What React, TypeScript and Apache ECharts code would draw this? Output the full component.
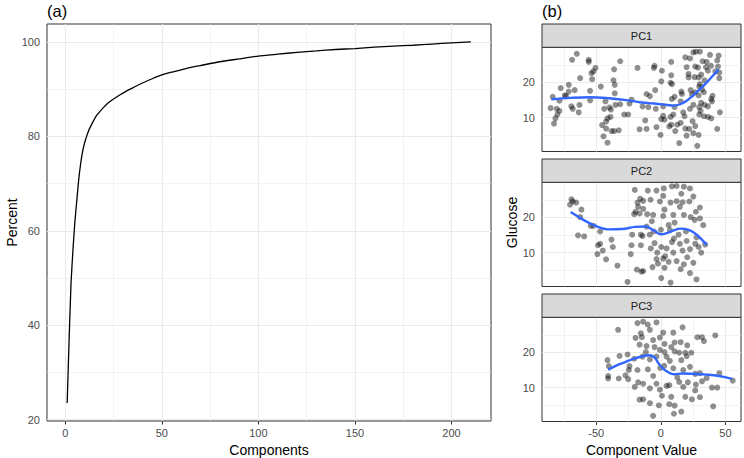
import React, { useEffect, useRef } from "react";
import * as echarts from "echarts";

// ---- Panel (a): cumulative percent of variance vs number of components ----
const components = [1, 2, 3, 4, 5, 6, 7, 8, 9, 10, 12, 14, 16, 18, 20, 22, 25, 28, 32, 36, 40, 45, 50, 55, 60, 65, 70, 80, 90, 100, 110, 120, 130, 140, 150, 160, 170, 180, 190, 200, 210];
const percent = [23.5, 37, 49, 56, 62, 66.5, 71, 74.3, 76.8, 78.6, 81.1, 82.8, 84.3, 85.3, 86.2, 87.0, 87.9, 88.7, 89.7, 90.5, 91.3, 92.2, 93.0, 93.6, 94.1, 94.6, 95.0, 95.8, 96.4, 97.0, 97.4, 97.8, 98.1, 98.4, 98.6, 98.9, 99.1, 99.3, 99.55, 99.8, 100];
const compXTicks = [0, 50, 100, 150, 200];
const compXMinor = [25, 75, 125, 175];
const percentTicks = [20, 40, 60, 80, 100];
const percentMinor = [30, 50, 70, 90];

// ---- Panel (b): Glucose vs component value, faceted by PC ----
const facetNames = ["PC1", "PC2", "PC3"];
const valueTicks = [-50, 0, 50];
const valueMinor = [-75, -25, 25];
const glucoseTicks = [10, 20];
const glucoseMinor = [5, 15, 25];

const pc1Points = [
  [-65.1, 28.1], [-68.7, 26.4], [-55.8, 26.4], [-55.8, 25.8], [-50.6, 24.1], [-52.2, 23.1], [-53.7, 22.6], [-53.2, 20.9],
  [-62.5, 21.2], [-31.5, 26.0], [-36.2, 23.7], [-18.1, 24.1], [-46.5, 18.8], [-54.8, 17.6], [-36.7, 20.6], [-35.7, 19.3],
  [-35.7, 16.9], [-71.3, 19.3], [-77.5, 18.4], [-71.3, 17.4], [-66.7, 17.8], [-73.4, 16.1], [-74.4, 16.3], [-83.7, 15.9],
  [-78.5, 14.8], [-85.3, 12.7], [-80.6, 12.5], [-78.5, 11.9], [-80.1, 10.9], [-81.6, 9.8], [-82.7, 8.3], [-69.3, 13.2],
  [-68.2, 12.5], [-63.0, 13.6], [-63.6, 11.5], [-54.8, 14.9], [-42.9, 14.6], [-43.9, 12.5], [-39.8, 12.9], [-38.7, 12.3],
  [-41.3, 9.8], [-39.0, 10.2], [-42.4, 8.9], [-45.5, 7.9], [-42.4, 6.9], [-38.2, 6.2], [-36.2, 6.2], [-32.6, 6.4],
  [-44.4, 4.7], [-41.3, 2.9], [-35.1, 13.6], [-31.5, 13.8], [-28.4, 10.9], [-25.3, 10.9], [-24.3, 14.0], [-22.7, 15.1],
  [-16.5, 6.7],
  [-4.9, 24.7], [-5.4, 24.1], [0.8, 23.3], [8.0, 25.8], [8.0, 22.0], [7.5, 19.9], [8.6, 19.5], [0.3, 20.3], [-4.4, 17.8],
  [-11.1, 16.7], [-8.5, 16.1], [-14.2, 13.2], [-9.7, 13.0], [-3.9, 12.5], [1.8, 13.2], [8.5, 15.3], [10.6, 15.9], [15.3, 14.6],
  [23.0, 17.8], [24.0, 16.6], [17.3, 11.5], [18.3, 10.4], [1.8, 10.5], [2.8, 9.4], [0.3, 9.6], [7.5, 10.2], [9.6, 10.9],
  [6.5, 7.5], [8.0, 8.0], [-0.3, 5.1], [-3.4, 7.3], [-11.1, 6.8], [-12.1, 9.2], [15.3, 8.5], [14.2, 2.8], [19.9, 4.9],
  [21.9, 6.8], [28.2, 2.0], [29.2, 5.1], [25.1, 5.6], [26.6, 7.6], [24.5, 9.0], [29.7, 10.9], [33.3, 10.4], [36.4, 10.2],
  [39.0, 9.8], [45.7, 11.5], [43.6, 6.8], [30.7, 11.9], [25.1, 13.6], [29.7, 13.0], [22.5, 12.5], [39.5, 14.6], [39.0, 15.3],
  [40.0, 16.2], [45.2, 21.2], [43.6, 26.2], [44.2, 24.5], [44.7, 27.6], [38.0, 27.8], [30.2, 28.7], [27.1, 28.7], [25.1, 28.5],
  [18.9, 27.1], [22.5, 26.8], [32.3, 26.0], [26.6, 24.5], [19.9, 24.3], [21.4, 22.4], [21.4, 21.4], [28.7, 24.2], [34.9, 24.3],
  [36.4, 23.3], [31.2, 22.2], [29.2, 21.4], [33.8, 20.6], [30.2, 19.5], [29.7, 18.8], [31.8, 18.0], [26.6, 17.2], [29.2, 16.3],
  [33.3, 17.2], [31.2, 14.2], [33.8, 13.6], [36.4, 13.2], [15.8, 17.4], [16.3, 16.7], [26.1, 21.5], [10.6, 13.0], [12.7, 8.0],
  [18.9, 6.9], [11.1, 6.2], [35.4, 25.8], [38.8, 24.7], [42.1, 23.1], [45.2, 22.8],
];
const pc2Points = [
  [-69.2, 25.1], [-68.2, 24.5], [-70.3, 23.6], [-65.6, 24.2], [-61.5, 22.2], [-62.5, 20.1], [-64.1, 14.9], [-59.4, 14.6],
  [-54.3, 17.6], [-52.2, 17.6], [-47.0, 16.0], [-47.0, 12.5], [-48.6, 12.1], [-38.2, 13.7], [-37.2, 11.6], [-45.0, 10.6],
  [-49.1, 9.6], [-42.4, 8.1], [-33.6, 6.3], [-25.8, 1.7], [-18.6, 5.2], [-23.3, 9.6], [-22.7, 12.1], [-22.2, 15.1],
  [-15.5, 15.1], [-15.5, 12.1], [-15.0, 4.6], [-20.7, 20.9], [-19.6, 21.6], [-18.1, 24.2], [-20.2, 27.8], [-17.6, 23.0],
  [-16.0, 25.3], [-16.5, 21.1],
  [-10.1, 27.6], [-3.4, 27.6], [2.3, 28.2], [8.5, 28.8], [12.2, 28.9], [1.8, 26.1], [7.5, 24.2], [15.8, 26.7], [17.8, 28.7],
  [22.5, 28.2], [25.1, 25.9], [22.0, 24.5], [16.8, 24.3], [14.7, 23.0], [30.2, 22.8], [27.1, 21.6], [23.0, 20.1], [9.6, 20.7],
  [10.6, 18.5], [6.0, 17.8], [1.8, 20.4], [2.8, 22.2], [-6.0, 20.7], [-7.0, 18.9], [-13.7, 22.4], [-13.7, 24.7], [-11.1, 17.4],
  [-14.2, 14.7], [-8.6, 15.1], [-5.4, 16.0], [-4.9, 12.7], [-7.8, 11.2], [-2.8, 10.0], [-2.3, 6.9], [-6.5, 5.9], [-13.7, 4.8],
  [1.8, 8.3], [3.3, 9.0], [6.0, 7.4], [2.8, 5.7], [0.3, 2.8], [7.5, 1.5], [9.6, 10.0], [12.2, 7.6], [15.3, 5.3], [17.8, 6.7],
  [20.4, 8.7], [22.5, 4.2], [27.6, 2.4], [25.1, 7.1], [22.5, 11.0], [16.8, 10.6], [14.7, 12.5], [19.9, 13.3], [26.6, 12.5],
  [29.2, 11.6], [31.2, 10.0], [34.3, 12.3], [27.6, 14.3], [13.7, 15.1], [10.1, 14.0], [8.6, 13.0], [19.4, 16.0], [4.4, 11.2],
  [0.3, 11.6], [-3.4, 8.2], [-10.6, 20.9], [-8.0, 25.0], [-0.8, 24.5], [12.2, 24.6], [17.8, 20.7], [26.1, 19.3], [32.8, 17.8],
  [30.2, 19.7], [0.0, 16.5], [7.0, 16.4],
];
const pc3Points = [
  [-33.1, 26.4], [-41.3, 17.8], [-40.3, 16.1], [-40.8, 13.3], [-40.8, 12.6], [-32.6, 12.6], [-32.0, 19.0], [-25.8, 19.4],
  [-27.4, 13.5], [-24.3, 16.1], [-24.8, 15.0], [-25.3, 12.4], [-20.2, 10.2], [-20.7, 18.2], [-19.6, 24.1], [-18.1, 28.3],
  [-16.5, 6.6], [-16.5, 22.2], [-18.1, 15.0], [-17.6, 11.5], [-15.5, 25.4],
  [-13.7, 28.7], [-10.1, 27.9], [-3.4, 28.5], [-8.5, 26.4], [1.8, 25.6], [9.6, 25.6], [16.8, 27.1], [-14.7, 24.3], [-6.0, 23.5],
  [-0.8, 24.2], [-11.1, 21.8], [-4.9, 21.5], [2.8, 22.4], [8.0, 21.5], [10.6, 22.8], [15.3, 22.9], [20.4, 22.0], [28.2, 24.3],
  [31.8, 24.3], [33.3, 23.2], [42.1, 24.8], [14.2, 19.9], [18.9, 19.9], [23.5, 19.9], [10.6, 20.3], [2.8, 20.1], [-14.2, 18.8],
  [-8.5, 18.0], [6.9, 17.6], [15.8, 17.8], [19.9, 18.9], [9.6, 15.5], [2.6, 16.2], [17.3, 15.0], [22.5, 15.9], [-10.1, 15.2],
  [-6.0, 13.3], [-0.5, 15.6], [-13.7, 11.1], [-8.5, 9.8], [-3.4, 11.1], [-0.8, 9.4], [4.4, 10.5], [6.5, 10.7], [0.8, 7.7],
  [6.5, 5.3], [10.6, 4.9], [10.1, 2.6], [15.8, 3.2], [-6.0, 2.0], [-8.5, 5.6], [-13.7, 6.7], [17.3, 10.2], [18.9, 7.4],
  [24.0, 6.7], [26.6, 9.2], [30.2, 7.3], [27.1, 10.9], [31.8, 11.8], [30.2, 14.1], [26.6, 13.9], [35.4, 12.7], [39.5, 10.0],
  [43.6, 10.0], [40.5, 4.7], [45.2, 14.1], [55.6, 12.0], [12.7, 12.9], [14.2, 11.6], [20.9, 11.5], [8.0, 7.4], [-1.6, 5.0],
  [4.4, 18.8], [-0.8, 20.7], [-11.6, 20.1], [-3.4, 18.8],
];

// loess smooth curves
const pc1SmoothX = [-84.7, -70, -55, -40, -25, -15, -5, 5, 10, 15, 20, 25, 30, 35, 40, 44.7];
const pc1SmoothY = [15.2, 15.6, 15.8, 15.5, 14.9, 14.3, 14.0, 13.6, 13.4, 13.8, 14.8, 16.3, 18.0, 19.8, 21.8, 23.7];
const pc2SmoothX = [-69.8, -60, -50, -41, -30, -20, -12, -5, 0, 5, 10, 15, 22, 28, 35.4];
const pc2SmoothY = [21.5, 19.3, 17.5, 16.6, 16.7, 17.3, 17.4, 16.2, 15.2, 15.6, 16.3, 16.8, 16.4, 15.0, 12.2];
const pc3SmoothX = [-40.8, -35, -28, -20, -14, -9, -5, -2, 2, 6, 10, 17, 25, 35, 45, 55.1];
const pc3SmoothY = [15.1, 16.2, 17.2, 18.3, 18.9, 19.2, 18.6, 17.0, 15.3, 14.3, 13.8, 14.0, 13.9, 13.7, 13.3, 12.5];

const FONT = "Liberation Sans, Arial, Helvetica, sans-serif";
const GRID_COLOR = "#EBEBEB";
const BORDER = "#333333";

function zip(xs: number[], ys: number[]) {
  return xs.map((x, i) => [x, ys[i]]);
}

function gridMarks(xMaj: number[], xMin: number[], yMaj: number[], yMin: number[]) {
  const mk = (key: string, v: number, w: number) => ({
    [key]: v,
    lineStyle: { color: GRID_COLOR, width: w, type: "solid" },
  });
  return {
    silent: true,
    symbol: ["none", "none"],
    z: 1,
    animation: false,
    label: { show: false },
    emphasis: { disabled: true },
    lineStyle: { color: GRID_COLOR, type: "solid" },
    data: [
      ...xMin.map((v) => mk("xAxis", v, 0.6)),
      ...yMin.map((v) => mk("yAxis", v, 0.6)),
      ...xMaj.map((v) => mk("xAxis", v, 1.1)),
      ...yMaj.map((v) => mk("yAxis", v, 1.1)),
    ],
  };
}

const tickLabel = { color: "#4D4D4D", fontSize: 11, fontFamily: FONT };
const tickStyle = { show: true, length: 3.5, lineStyle: { color: BORDER, width: 1 } };

const RIGHT_LEFT = 542;
const RIGHT_W = 199;
const PANEL_H = 104.2;
const STRIP_H = 23.3;
const panelTops = [47.3, 182.3, 317.3];

export default function App() {
  const ref = useRef<HTMLDivElement>(null);
  useEffect(() => {
    if (!ref.current) return;
    const chart = echarts.init(ref.current, undefined, { renderer: "svg" });

    const gridBase = {
      show: true, borderColor: BORDER, borderWidth: 1, backgroundColor: "#ffffff",
      containLabel: false, outerBoundsMode: "none",
    };
    const grids = [
      { ...gridBase, left: 47, top: 24, width: 444, height: 397 },
      ...panelTops.map((t) => ({ ...gridBase, left: RIGHT_LEFT, top: t, width: RIGHT_W, height: PANEL_H })),
    ];

    const xAxes: any[] = [
      {
        gridIndex: 0, type: "value", min: -9.45, max: 220.45,
        axisLine: { show: false }, splitLine: { show: false },
        axisTick: { ...tickStyle, customValues: compXTicks },
        axisLabel: { ...tickLabel, margin: 6, customValues: compXTicks },
        name: "Components", nameLocation: "middle", nameGap: 22,
        nameTextStyle: { fontSize: 14, color: "#000", fontFamily: FONT },
      },
      ...[1, 2, 3].map((g) => ({
        gridIndex: g, type: "value", min: -92, max: 62,
        axisLine: { show: false }, splitLine: { show: false },
        axisTick: g === 3 ? { ...tickStyle, customValues: valueTicks } : { show: false },
        axisLabel: g === 3 ? { ...tickLabel, margin: 6, customValues: valueTicks } : { show: false },
        name: g === 3 ? "Component Value" : "",
        nameLocation: "middle", nameGap: 21,
        nameTextStyle: { fontSize: 14, color: "#000", fontFamily: FONT },
      })),
    ];

    const yAxes: any[] = [
      {
        gridIndex: 0, type: "value", min: 19.7, max: 103.8,
        axisLine: { show: false }, splitLine: { show: false },
        axisTick: { ...tickStyle, customValues: percentTicks },
        axisLabel: { ...tickLabel, margin: 7, customValues: percentTicks },
      },
      ...[1, 2, 3].map((g) => ({
        gridIndex: g, type: "value", min: 0.4, max: 29.95,
        axisLine: { show: false }, splitLine: { show: false },
        axisTick: { ...tickStyle, customValues: glucoseTicks },
        axisLabel: { ...tickLabel, margin: 7, customValues: glucoseTicks },
      })),
    ];

    const rightMarks = gridMarks(valueTicks, valueMinor, glucoseTicks, glucoseMinor);
    const pointsList = [pc1Points, pc2Points, pc3Points];
    const smoothList = [zip(pc1SmoothX, pc1SmoothY), zip(pc2SmoothX, pc2SmoothY), zip(pc3SmoothX, pc3SmoothY)];

    const series: any[] = [
      {
        type: "line", xAxisIndex: 0, yAxisIndex: 0,
        data: zip(components, percent),
        showSymbol: false, smooth: 0.15,
        lineStyle: { color: "#000", width: 1.3 },
        z: 3,
        markLine: gridMarks(compXTicks, compXMinor, percentTicks, percentMinor),
      },
    ];
    pointsList.forEach((pts, i) => {
      series.push({
        type: "scatter", name: facetNames[i], xAxisIndex: i + 1, yAxisIndex: i + 1,
        data: pts, symbolSize: 6,
        itemStyle: { color: "rgba(0,0,0,0.55)", borderWidth: 0 },
        z: 2,
        markLine: rightMarks,
      });
      series.push({
        type: "line", xAxisIndex: i + 1, yAxisIndex: i + 1,
        data: smoothList[i], showSymbol: false, smooth: 0.4,
        lineStyle: { color: "#3366FF", width: 2.4 },
        z: 4,
      });
    });

    const titleStyle = { fontSize: 14, fontFamily: FONT, fill: "#000", textAlign: "center", textVerticalAlign: "middle" };
    const graphics: any[] = [
      { type: "text", x: 47, y: 11, style: { text: "(a)", fontSize: 16.5, fontFamily: FONT, fill: "#000", textVerticalAlign: "middle" } },
      { type: "text", x: RIGHT_LEFT, y: 11, style: { text: "(b)", fontSize: 16.5, fontFamily: FONT, fill: "#000", textVerticalAlign: "middle" } },
      { type: "text", x: 12, y: 222.5, rotation: Math.PI / 2, style: { ...titleStyle, text: "Percent" } },
      { type: "text", x: 512, y: 222.5, rotation: Math.PI / 2, style: { ...titleStyle, text: "Glucose" } },
    ];
    panelTops.forEach((t, i) => {
      graphics.push({
        type: "rect", z: 10,
        shape: { x: RIGHT_LEFT, y: t - STRIP_H, width: RIGHT_W, height: STRIP_H },
        style: { fill: "#D9D9D9", stroke: BORDER, lineWidth: 1 },
      });
      graphics.push({
        type: "text", z: 11, x: RIGHT_LEFT + RIGHT_W / 2, y: t - STRIP_H / 2,
        style: { text: facetNames[i], fontSize: 11, fontFamily: FONT, fill: "#1A1A1A", textAlign: "center", textVerticalAlign: "middle" },
      });
    });

    chart.setOption({
      animation: false,
      textStyle: { fontFamily: FONT },
      grid: grids,
      xAxis: xAxes,
      yAxis: yAxes,
      series,
      graphic: graphics,
    });
    return () => chart.dispose();
  }, []);

  return (
    <div
      ref={ref}
      style={{ position: "fixed", left: 0, top: 0, width: 744, height: 458, background: "#fff" }}
    />
  );
}
